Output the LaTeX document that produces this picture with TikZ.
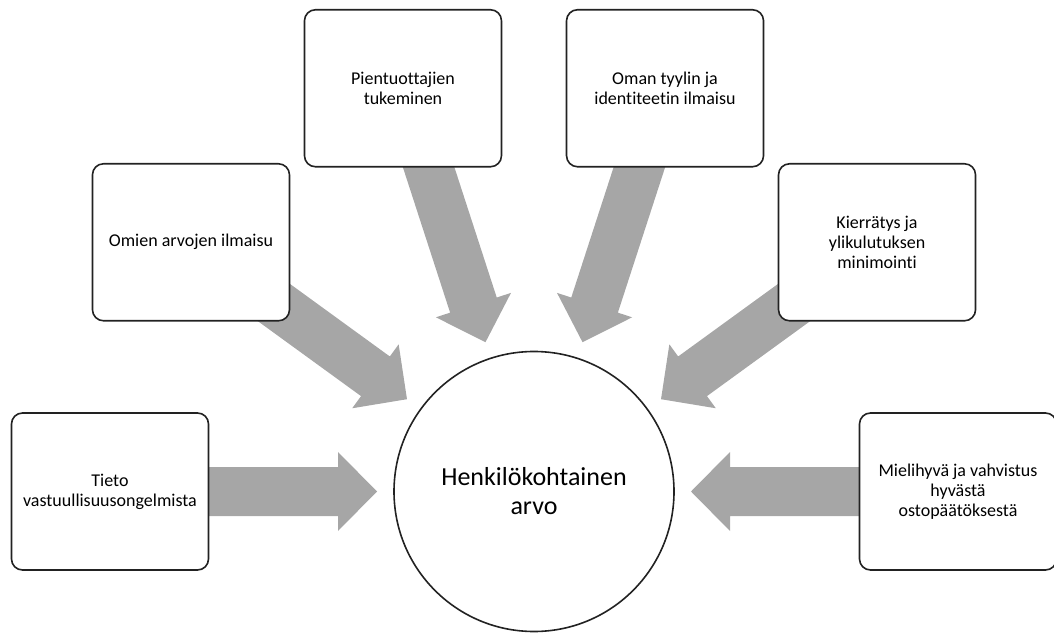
\documentclass[tikz,border=0pt]{standalone}
\usepackage{fontspec}
\setmainfont{Carlito}[Ligatures=NoCommon]
\usetikzlibrary{calc}
\definecolor{arrowgray}{HTML}{A6A6A6}
\definecolor{linegray}{HTML}{222222}
\begin{document}
\begin{tikzpicture}[x=1pt,y=1pt,
  itembox/.style={draw=linegray, line width=1.6pt, fill=white, rounded corners=11pt,
    minimum width=197pt, minimum height=157pt, inner sep=0pt, outer sep=0pt,
    align=center, font=\fontsize{18}{20}\selectfont},
  hub/.style={circle, draw=linegray, line width=1.6pt, fill=white, minimum size=280pt,
    inner sep=0pt, outer sep=0pt, align=center, font=\fontsize{26}{29}\selectfont},
  blockarrow/.style={fill=arrowgray}]
\useasboundingbox (0,0) rectangle (1054,632);
\node[hub] (c) at (534,140.5) {Henkilökohtainen\\arvo};
% block arrows pointing from each box towards the hub
\foreach \ang in {180,144,108,72,36,0}{
  \begin{scope}[shift={(c.center)}, rotate=\ang]
    \fill[blockarrow] (360,24.5) -- (196,24.5) -- (196,39.5) -- (157,0)
      -- (196,-39.5) -- (196,-24.5) -- (360,-24.5) -- cycle;
  \end{scope}
}
\node[itembox] (b1) at ($(c.center)+(180:424)$) {Tieto\\vastuullisuusongelmista};
\node[itembox] (b2) at ($(c.center)+(144:424)$) {Omien arvojen ilmaisu};
\node[itembox] (b3) at ($(c.center)+(108:424)$) {Pientuottajien\\tukeminen};
\node[itembox] (b4) at ($(c.center)+(72:424)$) {Oman tyylin ja\\identiteetin ilmaisu};
\node[itembox] (b5) at ($(c.center)+(36:424)$) {Kierrätys ja\\ylikulutuksen\\minimointi};
\node[itembox] (b6) at ($(c.center)+(0:424)$) {Mielihyvä ja vahvistus\\hyvästä\\ostopäätöksestä};
\end{tikzpicture}
\end{document}
